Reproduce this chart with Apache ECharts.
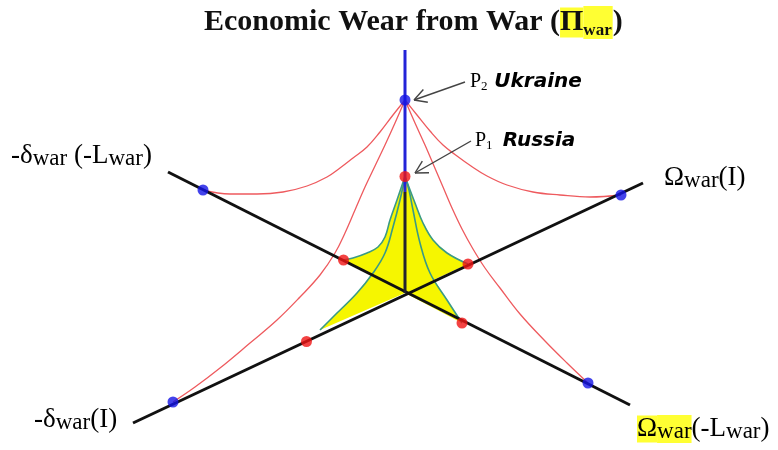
<!DOCTYPE html>
<html>
<head>
<meta charset="utf-8">
<title>Economic Wear from War</title>
<script src="https://cdn.jsdelivr.net/npm/echarts@6/dist/echarts.min.js"></script>
<style>
  html, body { margin: 0; padding: 0; background: #fff; }
  #main { width: 778px; height: 450px; }
</style>
</head>
<body>
<div id="main"></div>
<script>
// diagram coordinates: origin where the axes cross, y up
var axisUL = [[-237, 121], [225, -112]];   // -δwar(-Lwar) .. Ωwar(-Lwar)
var axisUR = [[238, 110], [-272, -130]];   // Ωwar(I) .. -δwar(I)
var axisTop = [[0, 243], [0, 101]];        // Πwar (blue part)
var axisMid = [[0, 101], [0, 0]];          // Πwar (dark part)

var ukrainePts = [[0, 193], [-202, 103], [216, 98], [-232, -109], [183, -90]];
var russiaPts = [[0, 116.5], [-61.5, 33], [63, 29], [-98.5, -48.5], [57, -30]];

// red curves of P2 (Ukraine)
var ukrUL = [[0, 193], [-12, 178], [-25, 161], [-38, 146], [-52, 135], [-65, 125], [-78, 116], [-98, 107], [-122, 101], [-148, 99], [-175, 99], [-202, 103]];
var ukrUR = [[0, 193], [12, 178], [25, 162], [38, 148], [52, 137], [66, 127], [82, 117], [102, 108], [128, 101], [155, 98], [185, 96], [216, 98]];
var ukrLL = [[0, 193], [-10, 170], [-20, 148], [-30, 127], [-40, 106], [-50, 83], [-60, 60], [-70, 40], [-85, 18], [-105, -4], [-128, -27], [-155, -50], [-185, -75], [-210, -94], [-232, -109]];
var ukrLR = [[0, 193], [10, 170], [20, 148], [29, 127], [38, 106], [47, 85], [57, 64], [68, 44], [80, 25], [95, 5], [115, -21], [140, -48], [162, -70], [183, -90]];

// teal curves of P1 (Russia), yellow area
var rusUL = [[0, 116.5], [-8, 93], [-15, 73], [-20, 56], [-27, 46], [-38, 40], [-52, 35], [-61.5, 33]];
var rusUR = [[0, 116.5], [10, 90], [18, 70], [28, 53], [42, 40], [63, 29]];
var rusLL = [[0, 116.5], [-5, 93], [-12, 66], [-20, 40], [-32, 20], [-48, 0], [-72, -24], [-85, -37]];
var rusLR = [[0, 116.5], [4, 103], [8, 83], [15, 50], [25, 20], [42, -7], [57, -30]];

// arrows: [tailX, tailY, tipX, tipY]
var arrows = [[60, 211, 9, 193], [66, 152, 10, 120]];

var chart = echarts.init(document.getElementById('main'));

function curve(data, color, width, z) {
    return {
        type: 'line', data: data, smooth: 0.4, symbol: 'none', z: z,
        lineStyle: {color: color, width: width}, silent: true
    };
}

function petal(data) {
    return {
        type: 'custom', z: 1, silent: true,
        data: [0],
        renderItem: function (params, api) {
            var pts = [api.coord([0, 0])];
            data.forEach(function (p) { pts.push(api.coord(p)); });
            return {type: 'polygon', shape: {points: pts}, style: {fill: '#f6f600', stroke: null}};
        }
    };
}

var serif = '"Liberation Serif", "Times New Roman", serif';
var richLabel = {
    a: {fontFamily: serif, fontSize: 27, lineHeight: 30, color: '#111'},
    s: {fontFamily: serif, fontSize: 23, lineHeight: 26, padding: [5, 0, 0, 0], color: '#111'},
    ha: {fontFamily: serif, fontSize: 27, lineHeight: 31, color: '#111', backgroundColor: '#ffff33'},
    hs: {fontFamily: serif, fontSize: 23, lineHeight: 26, padding: [5, 0, 0, 0], color: '#111', backgroundColor: '#ffff33'},
    p: {fontFamily: serif, fontSize: 20, lineHeight: 24, color: '#222'},
    n: {fontFamily: serif, fontSize: 13, lineHeight: 14, padding: [10, 0, 0, 0], color: '#222'},
    c: {fontFamily: '"DejaVu Sans", sans-serif', fontSize: 20, fontWeight: 'bold', fontStyle: 'italic', lineHeight: 24, color: '#222'}
};

function label(x, y, text) {
    return {type: 'text', x: x, y: y, silent: true,
        style: {text: text, rich: richLabel, textVerticalAlign: 'middle'}};
}

chart.setOption({
    animation: false,
    title: {
        text: '{a|Economic Wear from War (}{h|Π}{hs|war}{a|)}',
        left: 199, top: 0,
        textStyle: {
            rich: {
                a: {fontFamily: serif, fontSize: 30, fontWeight: 'bold', lineHeight: 35, color: '#111'},
                h: {fontFamily: serif, fontSize: 30, lineHeight: 35, color: '#111', backgroundColor: '#ffff33'},
                hs: {fontFamily: serif, fontSize: 17, lineHeight: 19, padding: [16, 1, 0, 0], color: '#111', backgroundColor: '#ffff33'}
            }
        }
    },
    grid: {left: 0, right: 0, top: 0, bottom: 0},
    xAxis: {type: 'value', min: -405, max: 373, show: false},
    yAxis: {type: 'value', min: -157, max: 293, show: false},
    graphic: [
        label(11, 156, '{a|-δ}{s|war}{a| (-L}{s|war}{a|)}'),
        label(664, 178, '{a|Ω}{s|war}{a|(I)}'),
        label(34, 420, '{a|-δ}{s|war}{a|(I)}'),
        label(637, 429, '{ha|Ω}{hs|war}{a|(-L}{s|war}{a|)}'),
        label(470, 82, '{p|P}{n|2}  {c|Ukraine}'),
        label(475, 141, '{p|P}{n|1}   {c|Russia}')
    ],
    series: [
        petal(rusUL), petal(rusUR), petal(rusLL), petal(rusLR),
        curve(ukrUL, '#ee5a5e', 1.3, 2),
        curve(ukrUR, '#ee5a5e', 1.3, 2),
        curve(ukrLL, '#ee5a5e', 1.3, 2),
        curve(ukrLR, '#ee5a5e', 1.3, 2),
        curve(rusUL, '#3a9a86', 1.6, 3),
        curve(rusUR, '#3a9a86', 1.6, 3),
        curve(rusLL, '#3a9a86', 1.6, 3),
        curve(rusLR, '#3a9a86', 1.6, 3),
        {type: 'line', data: axisUL, symbol: 'none', z: 4, silent: true, lineStyle: {color: '#111', width: 3}},
        {type: 'line', data: axisUR, symbol: 'none', z: 4, silent: true, lineStyle: {color: '#111', width: 3}},
        {type: 'line', data: axisMid, symbol: 'none', z: 4, silent: true, lineStyle: {color: '#23232e', width: 3}},
        {type: 'line', data: axisTop, symbol: 'none', z: 4, silent: true, lineStyle: {color: '#2323d8', width: 3}},
        {
            type: 'custom', z: 5, silent: true, data: arrows,
            renderItem: function (params, api) {
                var a = api.coord([api.value(0), api.value(1)]);
                var b = api.coord([api.value(2), api.value(3)]);
                var ang = Math.atan2(a[1] - b[1], a[0] - b[0]);
                var len = 14, spread = 0.5;
                var style = {stroke: '#444', lineWidth: 1.4, fill: null};
                return {
                    type: 'group',
                    children: [
                        {type: 'line', shape: {x1: a[0], y1: a[1], x2: b[0], y2: b[1]}, style: style},
                        {type: 'line', shape: {x1: b[0], y1: b[1], x2: b[0] + len * Math.cos(ang + spread), y2: b[1] + len * Math.sin(ang + spread)}, style: style},
                        {type: 'line', shape: {x1: b[0], y1: b[1], x2: b[0] + len * Math.cos(ang - spread), y2: b[1] + len * Math.sin(ang - spread)}, style: style}
                    ]
                };
            }
        },
        {type: 'scatter', data: ukrainePts, symbolSize: 11, z: 6, silent: true, itemStyle: {color: '#1414e6'}},
        {type: 'scatter', data: russiaPts, symbolSize: 11, z: 6, silent: true, itemStyle: {color: '#f01414'}}
    ]
});
</script>
</body>
</html>
